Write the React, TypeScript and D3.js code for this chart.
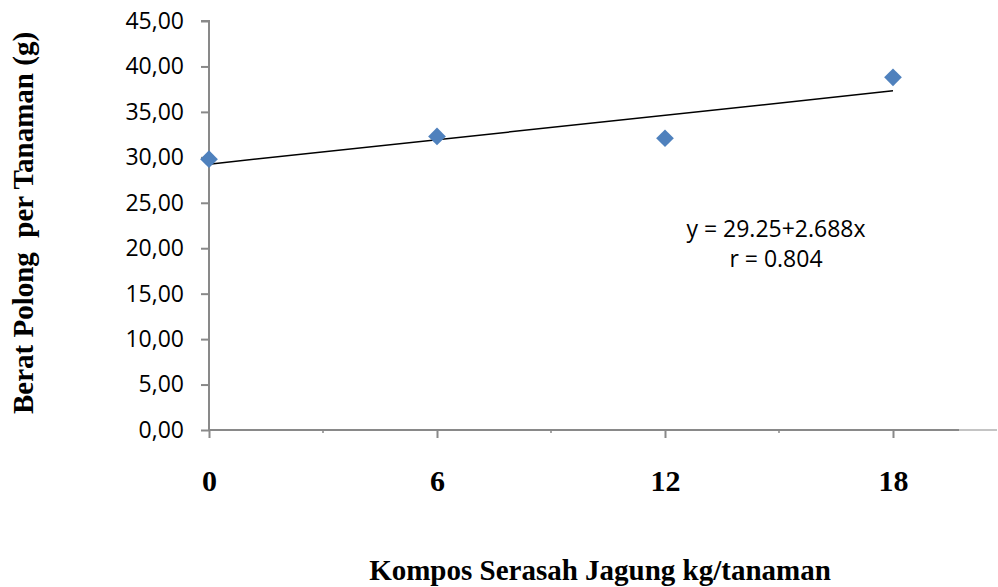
import * as d3 from "d3";
import React, { useRef, useEffect } from "react";

const doses = [0, 6, 12, 18];
const weights = [29.8, 32.3, 32.1, 38.8];
const yTicks = [0, 5, 10, 15, 20, 25, 30, 35, 40, 45];
const minorX = [3, 9, 15];
const intercept = 29.25;
const slope = 2.688;
const eqLines = ["y = 29.25+2.688x", "r = 0.804"];

const width = 998;
const height = 587;

export default function App() {
  const ref = useRef<SVGSVGElement>(null);

  useEffect(() => {
    const svg = d3.select(ref.current);
    svg.selectAll("*").remove();

    const x = d3.scaleLinear().domain([0, 18]).range([209, 893]);
    const y = d3.scaleLinear().domain([0, 45]).range([430, 21]);
    const axisColor = "#898989";
    const sans = "'Open Sans', 'Noto Sans', sans-serif";
    const serif = "'Liberation Serif', 'DejaVu Serif', serif";

    // y axis
    const yAxis = svg
      .append("g")
      .attr("transform", "translate(209,0)")
      .call(d3.axisLeft(y).tickValues(yTicks).tickSize(8).tickFormat(d => d3.format(".2f")(+d).replace(".", ",")));
    yAxis.select(".domain").attr("stroke", axisColor).attr("stroke-width", 2).attr("d", `M0,${y(45)}H-8H0V${y(0)}`);
    yAxis.selectAll(".tick line").attr("stroke", axisColor).attr("stroke-width", 2);
    yAxis
      .selectAll(".tick text")
      .attr("font-family", sans)
      .attr("font-size", 23)
      .attr("fill", "#000")
      .attr("x", -25);

    // x axis
    const xAxis = svg
      .append("g")
      .attr("transform", "translate(0,430)")
      .call(d3.axisBottom(x).tickValues(doses).tickSize(8).tickFormat(d3.format("d")));
    xAxis.select(".domain").attr("stroke", axisColor).attr("stroke-width", 2).attr("d", `M${x(0)},0H959`);
    xAxis.selectAll(".tick line").attr("stroke", axisColor).attr("stroke-width", 2);
    xAxis
      .selectAll(".tick text")
      .attr("font-family", serif)
      .attr("font-weight", "bold")
      .attr("font-size", 30)
      .attr("fill", "#000")
      .attr("dy", 0)
      .attr("y", 61);
    svg
      .append("line")
      .attr("x1", 959)
      .attr("x2", 997)
      .attr("y1", 430)
      .attr("y2", 430)
      .attr("stroke", axisColor)
      .attr("stroke-width", 1);
    svg
      .selectAll(".minor")
      .data(minorX)
      .enter()
      .append("line")
      .attr("x1", d => x(d))
      .attr("x2", d => x(d))
      .attr("y1", 430)
      .attr("y2", 433)
      .attr("stroke", axisColor)
      .attr("stroke-width", 1.5);

    // trend line
    svg
      .append("line")
      .attr("x1", x(0))
      .attr("y1", y(intercept))
      .attr("x2", x(18))
      .attr("y2", y(intercept + slope * 3))
      .attr("stroke", "#000")
      .attr("stroke-width", 1.5);

    // markers
    svg
      .selectAll(".pt")
      .data(doses)
      .enter()
      .append("path")
      .attr("d", d3.symbol(d3.symbolDiamond2, 200)())
      .attr("transform", (d, i) => `translate(${x(d)},${y(weights[i])})`)
      .attr("fill", "#4F81BD");

    // equation
    svg
      .selectAll(".eq")
      .data(eqLines)
      .enter()
      .append("text")
      .attr("x", 776)
      .attr("y", (d, i) => 237 + i * 30)
      .attr("text-anchor", "middle")
      .attr("font-family", sans)
      .attr("font-size", 23)
      .text(d => d);

    // axis titles
    svg
      .append("text")
      .attr("transform", "translate(33,223) rotate(-90)")
      .attr("text-anchor", "middle")
      .attr("font-family", serif)
      .attr("font-weight", "bold")
      .attr("font-size", 29)
      .style("white-space", "pre")
      .text("Berat Polong  per Tanaman (g)");

    svg
      .append("text")
      .attr("x", 600)
      .attr("y", 580)
      .attr("text-anchor", "middle")
      .attr("font-family", serif)
      .attr("font-weight", "bold")
      .attr("font-size", 29)
      .text("Kompos Serasah Jagung kg/tanaman");
  }, []);

  return (
    <div className="chart">
      <svg ref={ref} width={width} height={height} style={{ position: "absolute", left: 0, top: 0 }}></svg>
    </div>
  );
}
